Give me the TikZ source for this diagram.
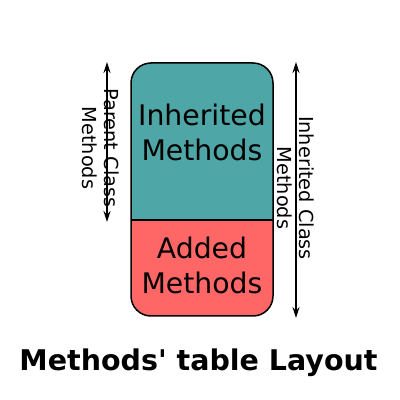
\documentclass[tikz,border=0pt]{standalone}
\usepackage{fontspec}
\setmainfont{DejaVu Sans}
\usetikzlibrary{arrows.meta}
\definecolor{inhcolor}{HTML}{4FA6A6}
\definecolor{addcolor}{HTML}{FF6666}
\begin{document}
\begin{tikzpicture}[x=1pt,y=1pt,
    boxtext/.style={align=center, font=\fontsize{28.3}{35}\selectfont},
    sidetext/.style={align=center, rotate=-90, font=\fontsize{19.3}{22}\selectfont},
    dimarrow/.style={{Stealth[length=11pt,width=7pt]}-{Stealth[length=11pt,width=7pt]}, line width=1.3pt}]
    \useasboundingbox (0,0) rectangle (400,400);

    % Table body
    \begin{scope}
        \clip[rounded corners=20] (131,84) rectangle (273,337);
        \fill[addcolor] (131,84) rectangle (273,180);
        \fill[inhcolor] (131,180) rectangle (273,337);
    \end{scope}
    \draw[line width=1.5pt] (131,180) -- (273,180);
    \draw[line width=1.5pt, rounded corners=20] (131,84) rectangle (273,337);
    \node[boxtext] (inh) at (202,268) {Inherited\\Methods};
    \node[boxtext] (add) at (202,135) {Added\\Methods};

    % Parent class span
    \coordinate (ptop) at (107,338);
    \coordinate (pbot) at (107,178);
    \draw[dimarrow] (ptop) -- (pbot);
    \node[sidetext] (plabel) at (101,252) {Parent Class\\Methods};

    % Inherited class span
    \coordinate (itop) at (296,338);
    \coordinate (ibot) at (296,82);
    \draw[dimarrow] (itop) -- (ibot);
    \node[sidetext] (ilabel) at (296,212) {Inherited Class\\Methods};

    % Title
    \node[font=\bfseries\fontsize{28.5}{34}\selectfont] (title) at (198.5,37) {Methods\textquotesingle{} table Layout};
\end{tikzpicture}
\end{document}
